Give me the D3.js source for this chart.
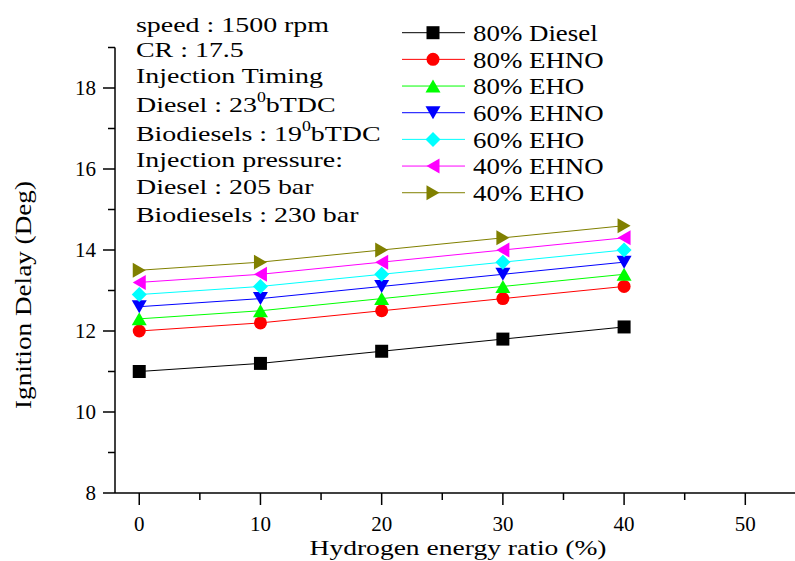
<!DOCTYPE html>
<html>
<head>
<meta charset="utf-8">
<script src="https://cdn.jsdelivr.net/npm/d3@7"></script>
<style>
  body { margin: 0; background: #fff; }
</style>
</head>
<body>
<svg id="chart"></svg>
<script>
const ratios = [0, 10, 20, 30, 40];
const seriesNames = ["80% Diesel", "80% EHNO", "80% EHO", "60% EHNO", "60% EHO", "40% EHNO", "40% EHO"];
const diesel80 = [11.0, 11.2, 11.5, 11.8, 12.1];
const ehno80 = [12.0, 12.2, 12.5, 12.8, 13.1];
const eho80 = [12.3, 12.5, 12.8, 13.1, 13.4];
const ehno60 = [12.6, 12.8, 13.1, 13.4, 13.7];
const eho60 = [12.9, 13.1, 13.4, 13.7, 14.0];
const ehno40 = [13.2, 13.4, 13.7, 14.0, 14.3];
const eho40 = [13.5, 13.7, 14.0, 14.3, 14.6];
const xTicks = [0, 10, 20, 30, 40, 50];
const yTicks = [8, 10, 12, 14, 16, 18];

const colors = ["#000000", "#ff0000", "#00ff00", "#0000ff", "#00ffff", "#ff00ff", "#808000"];
const shapes = ["square", "circle", "up", "down", "diamond", "left", "right"];
const allValues = [diesel80, ehno80, eho80, ehno60, eho60, ehno40, eho40];

const serif = "'Liberation Serif', 'Times New Roman', serif";
const w = 795, h = 561;
const svg = d3.select("#chart").attr("width", w).attr("height", h)
  .attr("font-family", serif);

const x = d3.scaleLinear().domain([-2, 54.1]).range([115, 795]);
const y = d3.scaleLinear().domain([8, 19]).range([493, 47.5]);

// widen a text a little, the source figure is stretched sideways
function stretch(sel, f) {
  sel.each(function () {
    const len = this.getComputedTextLength();
    d3.select(this).attr("textLength", len * f).attr("lengthAdjust", "spacingAndGlyphs");
  });
}

// axes
const yAxis = svg.append("g").attr("transform", "translate(115,0)");
yAxis.append("line").attr("x1", 0).attr("x2", 0).attr("y1", y(19)).attr("y2", y(8))
  .attr("stroke", "#000").attr("stroke-width", 1.5);
yAxis.selectAll(".maj").data(yTicks).enter().append("line")
  .attr("x1", -12).attr("x2", 0).attr("y1", d => y(d)).attr("y2", d => y(d))
  .attr("stroke", "#000").attr("stroke-width", 1.5);
yAxis.selectAll(".min").data(d3.range(9, 20, 2)).enter().append("line")
  .attr("x1", -7).attr("x2", 0).attr("y1", d => y(d)).attr("y2", d => y(d))
  .attr("stroke", "#000").attr("stroke-width", 1.5);
yAxis.selectAll("text").data(yTicks).enter().append("text")
  .text(d => d)
  .attr("font-family", serif)
  .attr("x", -19).attr("y", d => y(d)).attr("dy", "0.35em")
  .attr("text-anchor", "end").attr("font-size", "21px");

const xAxis = svg.append("g").attr("transform", "translate(0,493)");
xAxis.append("line").attr("x1", 115).attr("x2", 795).attr("y1", 0).attr("y2", 0)
  .attr("stroke", "#000").attr("stroke-width", 1.5);
xAxis.selectAll(".maj").data(xTicks).enter().append("line")
  .attr("x1", d => x(d)).attr("x2", d => x(d)).attr("y1", 0).attr("y2", 12)
  .attr("stroke", "#000").attr("stroke-width", 1.5);
xAxis.selectAll(".min").data(d3.range(5, 50, 10)).enter().append("line")
  .attr("x1", d => x(d)).attr("x2", d => x(d)).attr("y1", 0).attr("y2", 7)
  .attr("stroke", "#000").attr("stroke-width", 1.5);
xAxis.selectAll("text").data(xTicks).enter().append("text")
  .text(d => d)
  .attr("font-family", serif)
  .attr("x", d => x(d)).attr("y", 38)
  .attr("text-anchor", "middle").attr("font-size", "21px");

svg.append("text").text("Hydrogen energy ratio (%)")
  .attr("font-family", serif)
  .attr("x", 458).attr("y", 555).attr("text-anchor", "middle").attr("font-size", "22px")
  .attr("textLength", 297).attr("lengthAdjust", "spacingAndGlyphs");

svg.append("text").text("Ignition Delay (Deg)")
  .attr("font-family", serif)
  .attr("transform", "translate(31,295) rotate(-90)")
  .attr("text-anchor", "middle").attr("font-size", "23px")
  .attr("textLength", 228).attr("lengthAdjust", "spacingAndGlyphs");

// markers
function symbolPath(shape, s) {
  const r = s / 2;
  switch (shape) {
    case "square": return `M${-r},${-r}H${r}V${r}H${-r}Z`;
    case "circle": return d3.symbol(d3.symbolCircle, Math.PI * r * r)();
    case "up": return `M0,${-r}L${r + 1},${r}L${-r - 1},${r}Z`;
    case "down": return `M0,${r}L${r + 1},${-r}L${-r - 1},${-r}Z`;
    case "diamond": return `M0,${-r - 1}L${r + 1},0L0,${r + 1}L${-r - 1},0Z`;
    case "left": return `M${-r},0L${r},${-r - 1}L${r},${r + 1}Z`;
    case "right": return `M${r},0L${-r},${-r - 1}L${-r},${r + 1}Z`;
  }
}

const line = d3.line().x(d => x(d.x)).y(d => y(d.y));

seriesNames.forEach((name, i) => {
  const pts = ratios.map((r, j) => ({ x: r, y: allValues[i][j] }));
  const g = svg.append("g");
  g.append("path").attr("d", line(pts))
    .attr("fill", "none").attr("stroke", colors[i]).attr("stroke-width", 1);
  g.selectAll("path.m").data(pts).enter().append("path").attr("class", "m")
    .attr("d", symbolPath(shapes[i], 13))
    .attr("transform", d => `translate(${x(d.x)},${y(d.y)})`)
    .attr("fill", colors[i]);
});

// legend
const legend = svg.append("g");
seriesNames.forEach((name, i) => {
  const ly = 32.7 + i * 26.67;
  legend.append("line").attr("x1", 402).attr("x2", 465).attr("y1", ly).attr("y2", ly)
    .attr("stroke", colors[i]).attr("stroke-width", 1);
  legend.append("path").attr("d", symbolPath(shapes[i], 13))
    .attr("transform", `translate(433,${ly})`).attr("fill", colors[i]);
  legend.append("text").text(name)
    .attr("font-family", serif)
    .attr("x", 473).attr("y", ly).attr("dy", "0.35em").attr("font-size", "24px")
    .call(stretch, 1.12);
});

// annotation
const notes = [
  ["speed : 1500 rpm", 32],
  ["CR : 17.5", 57],
  ["Injection Timing", 83],
  ["Diesel : 23|0|bTDC", 112],
  ["Biodiesels : 19|0|bTDC", 141],
  ["Injection pressure:", 167],
  ["Diesel : 205 bar", 194],
  ["Biodiesels : 230 bar", 222]
];
notes.forEach(([t, by]) => {
  const parts = t.split("|");
  const txt = svg.append("text").attr("font-family", serif)
    .attr("x", 136).attr("y", by).attr("font-size", "22px");
  txt.append("tspan").text(parts[0]);
  if (parts.length > 1) {
    txt.append("tspan").text(parts[1]).attr("font-size", "14px").attr("dy", "-10");
    txt.append("tspan").text(parts[2]).attr("dy", "10");
  }
  // stretch the whole line sideways
  const len = txt.node().getComputedTextLength();
  txt.attr("transform", `translate(136,0) scale(1.27,1) translate(-136,0)`);
});
</script>
</body>
</html>
